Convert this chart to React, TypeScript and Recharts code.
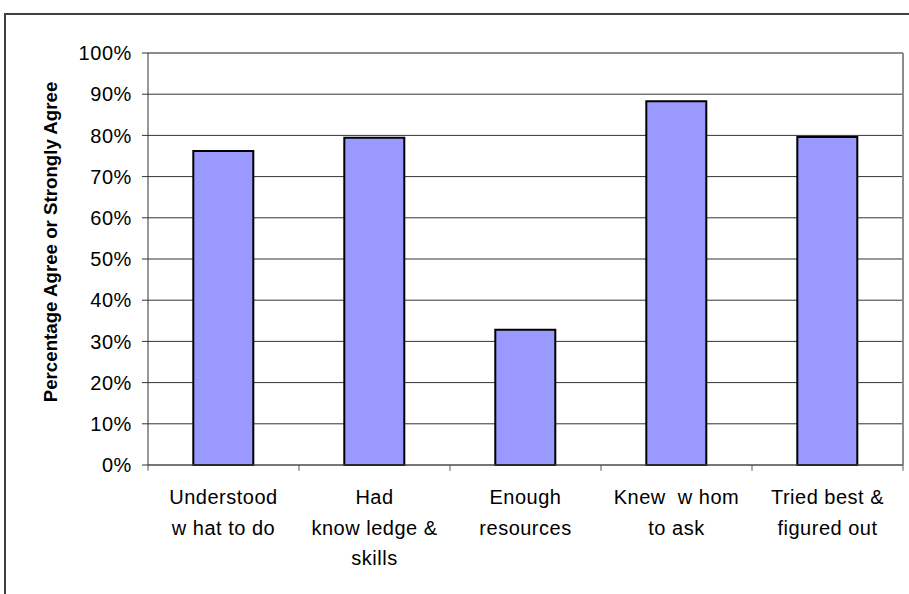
import React from "react";
import {
  BarChart,
  Bar,
  XAxis,
  YAxis,
  CartesianGrid,
  ReferenceLine,
} from "recharts";

// categories (line breaks as shown in the chart)
const categories = [
  "Understood\nw hat to do",
  "Had\nknow ledge &\nskills",
  "Enough\nresources",
  "Knew  w hom\nto ask",
  "Tried best &\nfigured out",
];

// percentage agree or strongly agree
const agreeValues = [76.2, 79.4, 32.8, 88.3, 79.6];

const yTicks = [0, 10, 20, 30, 40, 50, 60, 70, 80, 90, 100];
const bandTicks = [0, 1, 2, 3, 4, 5];

const data = categories.map((c, i) => ({ name: c, value: agreeValues[i], idx: i + 0.5 }));

const FONT = "'Liberation Sans', Arial, sans-serif";

const CategoryTick = (props: any) => {
  const { x, y, payload } = props;
  const lines = String(payload?.value ?? "").split("\n");
  return (
    <g>
      {lines.map((l: string, i: number) => (
        <text
          key={i}
          x={x}
          y={(y ?? 0) + 31 + i * 30.5}
          textAnchor="middle"
          fill="#000"
          fontSize={20}
          letterSpacing={0.5}
          fontFamily={FONT}
          style={{ whiteSpace: "pre" }}
        >
          {l}
        </text>
      ))}
    </g>
  );
};

const YLabel = () => (
  <text
    x={50}
    y={242}
    transform="rotate(-90, 50, 242)"
    textAnchor="middle"
    dominantBaseline="central"
    fontSize={18.7}
    fontWeight="bold"
    fontFamily={FONT}
    fill="#000"
  >
    Percentage Agree or Strongly Agree
  </text>
);

export default function App() {
  return (
    <div
      style={{
        position: "absolute",
        left: 0,
        top: 0,
        width: 909,
        height: 594,
        overflow: "hidden",
        background: "#fff",
        fontFamily: FONT,
      }}
    >
      <div
        style={{
          position: "absolute",
          left: 4,
          top: 13,
          width: 1200,
          height: 1200,
          borderLeft: "2px solid #404040",
          borderTop: "2px solid #404040",
        }}
      />
      <BarChart
        width={909}
        height={594}
        data={data}
        margin={{ top: 52, right: 6, left: 0, bottom: 60 }}
        barCategoryGap="30%"
        style={{ position: "absolute", left: 0, top: 0 }}
      >
        <CartesianGrid vertical={false} stroke="#333" strokeWidth={1} />
        <XAxis
          xAxisId="cat"
          dataKey="name"
          height={69}
          interval={0}
          axisLine={{ stroke: "#555", strokeWidth: 1 }}
          tickLine={false}
          tick={<CategoryTick />}
        />
        <YAxis
          width={148}
          domain={[0, 100]}
          ticks={yTicks}
          interval={0}
          tickFormatter={(v) => `${v}%`}
          tick={{ fill: "#000", fontSize: 20, fontFamily: FONT, letterSpacing: 0.6 }}
          tickSize={6}
          tickMargin={10}
          axisLine={{ stroke: "#333" }}
          tickLine={{ stroke: "#333" }}
          label={<YLabel />}
        />
        <XAxis
          xAxisId="band"
          type="number"
          dataKey="idx"
          domain={[0, 5]}
          ticks={bandTicks}
          orientation="top"
          height={1}
          axisLine={false}
          tickLine={false}
          tick={false}
        />
        {bandTicks.map((t) => (
          <ReferenceLine
            key={t}
            xAxisId="band"
            segment={[
              { x: t, y: 0 },
              { x: t, y: -1.4 },
            ]}
            stroke="#555"
            ifOverflow="visible"
          />
        ))}
        <ReferenceLine xAxisId="cat" y={100} stroke="#8c8c8c" strokeWidth={2} />
        <ReferenceLine xAxisId="band" x={5} stroke="#8c8c8c" strokeWidth={2} />
        <Bar
          xAxisId="cat"
          dataKey="value"
          fill="#9999FF"
          stroke="#000"
          strokeWidth={2}
          isAnimationActive={false}
        />
      </BarChart>
    </div>
  );
}
